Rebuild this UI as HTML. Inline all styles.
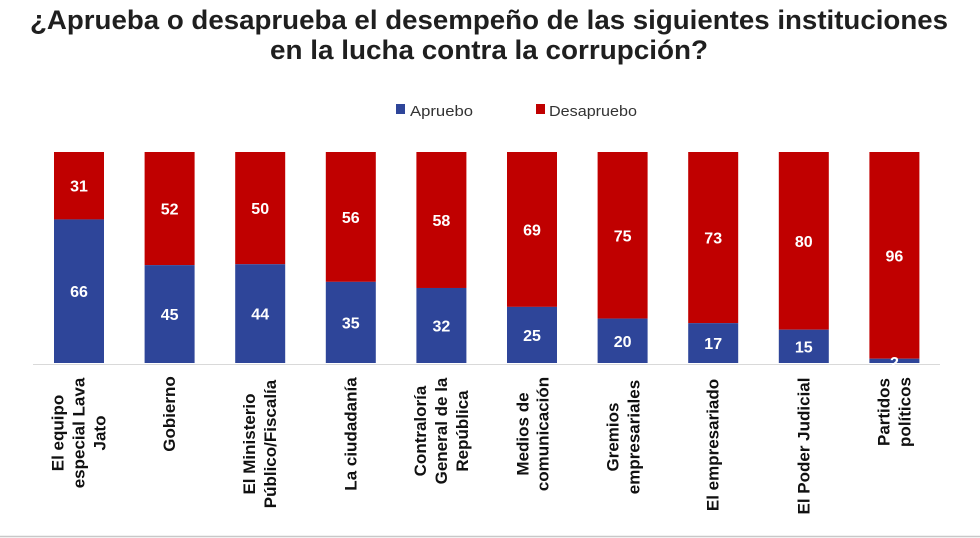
<!DOCTYPE html>
<html><head><meta charset="utf-8"><style>
html,body{margin:0;padding:0;background:#fff;}
svg{display:block;font-family:"Liberation Sans",sans-serif;}
.v{font-size:16px;font-weight:bold;fill:#fff;text-anchor:middle;}
.l{font-size:17px;font-weight:bold;fill:#111;text-anchor:middle;dominant-baseline:central;}
</style></head><body>
<svg width="980" height="538" viewBox="0 0 980 538" xmlns="http://www.w3.org/2000/svg">
<text x="489" y="29" text-anchor="middle" font-size="27" font-weight="bold" fill="#1f1f1f" textLength="918" lengthAdjust="spacingAndGlyphs">¿Aprueba o desaprueba el desempeño de las siguientes instituciones</text>
<text x="489" y="59" text-anchor="middle" font-size="27" font-weight="bold" fill="#1f1f1f" textLength="438" lengthAdjust="spacingAndGlyphs">en la lucha contra la corrupción?</text>
<rect x="396" y="104" width="9" height="10" fill="#2e4599"/>
<text x="410" y="116" font-size="15" fill="#333" textLength="63" lengthAdjust="spacingAndGlyphs">Apruebo</text>
<rect x="536" y="104" width="9" height="10" fill="#c00000"/>
<text x="549" y="116" font-size="15" fill="#333" textLength="88" lengthAdjust="spacingAndGlyphs">Desapruebo</text>
<line x1="33" y1="364.5" x2="940" y2="364.5" stroke="#d9d9d9" stroke-width="1"/>
<line x1="0" y1="536.5" x2="980" y2="536.5" stroke="#c8c8c8" stroke-width="1.5"/>

<rect x="54" y="152" width="50" height="67.43" fill="#c00000"/><rect x="54" y="219.43" width="50" height="143.57" fill="#2e4599"/>
<rect x="144.6" y="152" width="50" height="113.11" fill="#c00000"/><rect x="144.6" y="265.11" width="50" height="97.89" fill="#2e4599"/>
<rect x="235.2" y="152" width="50" height="112.23" fill="#c00000"/><rect x="235.2" y="264.23" width="50" height="98.77" fill="#2e4599"/>
<rect x="325.8" y="152" width="50" height="129.85" fill="#c00000"/><rect x="325.8" y="281.85" width="50" height="81.15" fill="#2e4599"/>
<rect x="416.4" y="152" width="50" height="135.98" fill="#c00000"/><rect x="416.4" y="287.98" width="50" height="75.02" fill="#2e4599"/>
<rect x="507" y="152" width="50" height="154.88" fill="#c00000"/><rect x="507" y="306.88" width="50" height="56.12" fill="#2e4599"/>
<rect x="597.6" y="152" width="50" height="166.58" fill="#c00000"/><rect x="597.6" y="318.58" width="50" height="44.42" fill="#2e4599"/>
<rect x="688.2" y="152" width="50" height="171.14" fill="#c00000"/><rect x="688.2" y="323.14" width="50" height="39.86" fill="#2e4599"/>
<rect x="778.8" y="152" width="50" height="177.68" fill="#c00000"/><rect x="778.8" y="329.68" width="50" height="33.32" fill="#2e4599"/>
<rect x="869.4" y="152" width="50" height="206.69" fill="#c00000"/><rect x="869.4" y="358.69" width="50" height="4.31" fill="#2e4599"/>

<text class="v" x="79" y="191.7">31</text><text class="v" x="79" y="297.2">66</text>
<text class="v" x="169.6" y="214.6">52</text><text class="v" x="169.6" y="320.1">45</text>
<text class="v" x="260.2" y="214.1">50</text><text class="v" x="260.2" y="319.6">44</text>
<text class="v" x="350.8" y="222.9">56</text><text class="v" x="350.8" y="328.4">35</text>
<text class="v" x="441.4" y="226">58</text><text class="v" x="441.4" y="331.5">32</text>
<text class="v" x="532" y="235.4">69</text><text class="v" x="532" y="340.9">25</text>
<text class="v" x="622.6" y="241.3">75</text><text class="v" x="622.6" y="346.8">20</text>
<text class="v" x="713.2" y="243.6">73</text><text class="v" x="713.2" y="349.1">17</text>
<text class="v" x="803.8" y="246.8">80</text><text class="v" x="803.8" y="352.3">15</text>
<text class="v" x="894.4" y="261.3">96</text><text class="v" x="894.4" y="368">2</text>

<text class="l" transform="translate(58,433) rotate(-90)">El equipo</text>
<text class="l" transform="translate(79,433) rotate(-90)">especial Lava</text>
<text class="l" transform="translate(100,433) rotate(-90)">Jato</text>
<text class="l" transform="translate(169.6,414) rotate(-90)">Gobierno</text>
<text class="l" transform="translate(249.7,444) rotate(-90)">El Ministerio</text>
<text class="l" transform="translate(270.7,444) rotate(-90)">Público/Fiscalía</text>
<text class="l" transform="translate(350.8,434) rotate(-90)">La ciudadanía</text>
<text class="l" transform="translate(420.4,431) rotate(-90)">Contraloría</text>
<text class="l" transform="translate(441.4,431) rotate(-90)">General de la</text>
<text class="l" transform="translate(462.4,431) rotate(-90)">República</text>
<text class="l" transform="translate(523,434) rotate(-90)">Medios de</text>
<text class="l" transform="translate(543,434) rotate(-90)">comunicación</text>
<text class="l" transform="translate(613,437) rotate(-90)">Gremios</text>
<text class="l" transform="translate(634,437) rotate(-90)">empresariales</text>
<text class="l" transform="translate(713.2,445) rotate(-90)">El empresariado</text>
<text class="l" transform="translate(803.8,446) rotate(-90)">El Poder Judicial</text>
<text class="l" transform="translate(884,412) rotate(-90)">Partidos</text>
<text class="l" transform="translate(905,412) rotate(-90)">políticos</text>
</svg>
</body></html>
